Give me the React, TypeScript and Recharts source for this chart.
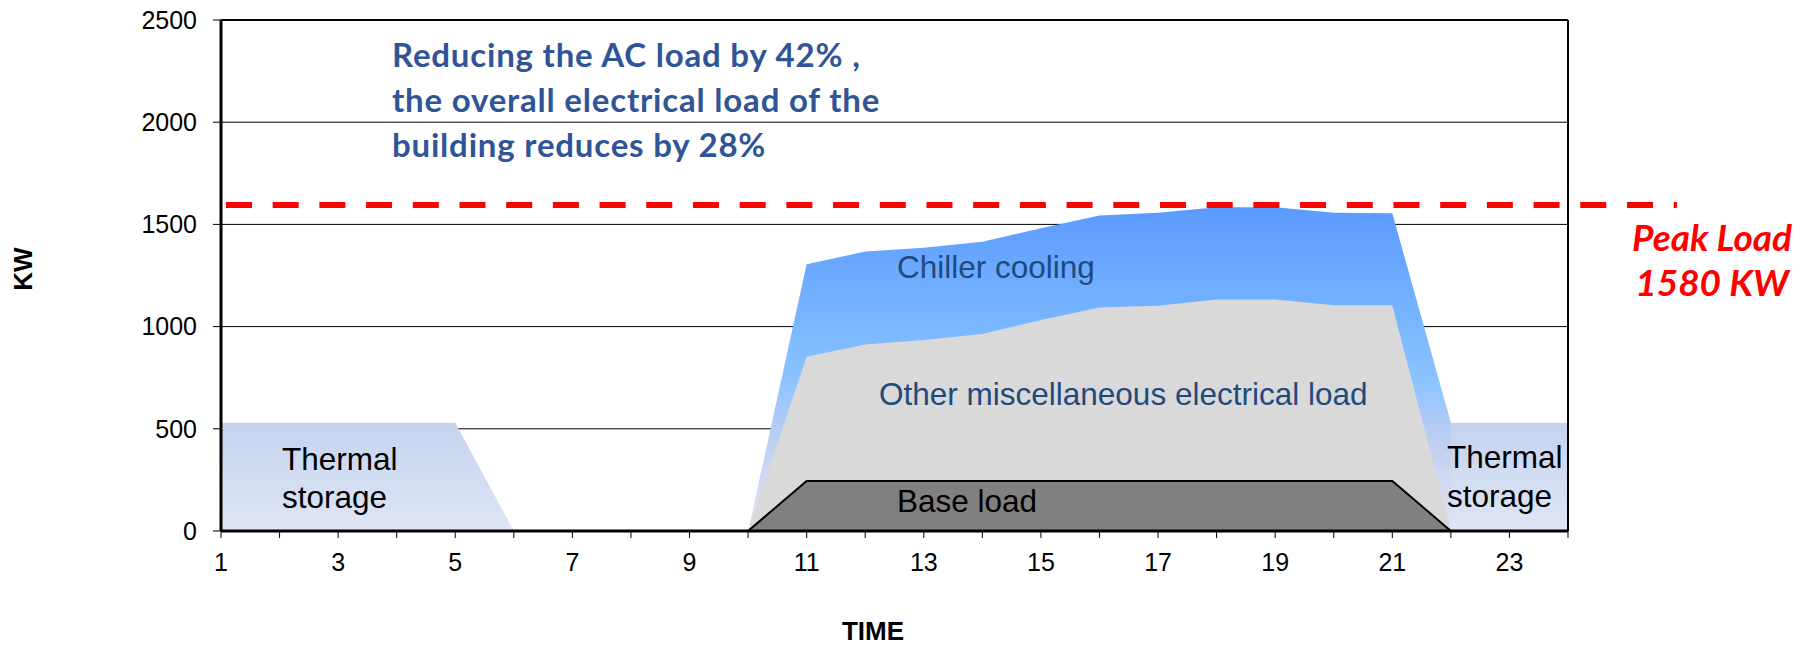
import React from 'react';
import { AreaChart, Area, XAxis, YAxis, CartesianGrid, ReferenceLine } from 'recharts';

// hour of the day
const hours = [1, 2, 3, 4, 5, 6, 7, 8, 9, 10, 11, 12, 13, 14, 15, 16, 17, 18, 19, 20, 21, 22, 23, 24];
const labelledHours = [1, 3, 5, 7, 9, 11, 13, 15, 17, 19, 21, 23];
const kwTicks = [0, 500, 1000, 1500, 2000, 2500];

// KW per hour
const thermalStorage = [530, 530, 530, 530, 530, 0, 0, 0, 0, 0, 0, 0, 0, 0, 0, 0, 0, 0, 0, 0, 0, 530, 530, 530];
const chillerLoad = [null, null, null, null, null, null, null, null, null, 0, 1305, 1367, 1386, 1415, 1481, 1544, 1557, 1584, 1584, 1557, 1555, 530, null, null];
const miscLoad = [null, null, null, null, null, null, null, null, null, 0, 853, 913, 934, 964, 1032, 1093, 1102, 1132, 1132, 1105, 1105, 0, null, null];
const baseLoad = [null, null, null, null, null, 0, 0, 0, 0, 0, 245, 245, 245, 245, 245, 245, 245, 245, 245, 245, 245, 0, null, null];

const peakLoad = 1595;

const data = hours.map((h, i) => ({
  hour: h,
  thermal: thermalStorage[i],
  chiller: chillerLoad[i],
  misc: miscLoad[i],
  base: baseLoad[i],
}));

const axisFont = { fill: '#000', fontSize: 25, fontFamily: '"Liberation Sans", Arial, sans-serif' };
const labelFont = '"Liberation Sans", Arial, sans-serif';
const noteFont = 'Lato, "Open Sans", sans-serif';

export default function App() {
  return (
    <div style={{ position: 'absolute', left: 0, top: 0, width: 1810, height: 648, background: '#fff' }}>
      <AreaChart width={1810} height={648} data={data} margin={{ top: 20, right: 242, bottom: 57, left: 0 }}>
        <defs>
          <linearGradient id="chillerFill" x1="0" y1="0" x2="0" y2="1">
            <stop offset="0%" stopColor="#5b9bff" />
            <stop offset="35%" stopColor="#78b5ff" />
            <stop offset="55%" stopColor="#8fc5ff" />
            <stop offset="70%" stopColor="#b9cdf2" />
            <stop offset="85%" stopColor="#d4d9f3" />
            <stop offset="100%" stopColor="#e2e3f6" />
          </linearGradient>
          <linearGradient id="thermalFill" x1="0" y1="0" x2="0" y2="1">
            <stop offset="0%" stopColor="#c4d3ee" />
            <stop offset="100%" stopColor="#dfe6f6" />
          </linearGradient>
        </defs>
        <CartesianGrid vertical={false} stroke="#000" strokeWidth={1} />
        <XAxis
          dataKey="hour"
          type="number"
          domain={[1, 24]}
          ticks={hours}
          interval={0}
          tickFormatter={(v) => (labelledHours.includes(v) ? String(v) : '')}
          tick={axisFont}
          tickSize={7}
          tickMargin={15}
          height={60}
          axisLine={{ stroke: '#000', strokeWidth: 3 }}
          tickLine={{ stroke: '#000', strokeWidth: 1 }}
        />
        <YAxis
          type="number"
          domain={[0, 2500]}
          ticks={kwTicks}
          interval={0}
          tick={axisFont}
          tickSize={8}
          tickMargin={16}
          width={221}
          axisLine={{ stroke: '#000', strokeWidth: 3 }}
          tickLine={{ stroke: '#000', strokeWidth: 1 }}
        />
        <Area type="linear" dataKey="thermal" stroke="none" fill="url(#thermalFill)" fillOpacity={1} isAnimationActive={false} />
        <Area type="linear" dataKey="chiller" stroke="none" fill="url(#chillerFill)" fillOpacity={1} isAnimationActive={false} />
        <Area type="linear" dataKey="misc" stroke="none" fill="#d9d9d9" fillOpacity={1} isAnimationActive={false} />
        <Area type="linear" dataKey="base" stroke="#000" strokeWidth={2} fill="#808080" fillOpacity={1} isAnimationActive={false} />
        <ReferenceLine y={2500} stroke="#000" strokeWidth={2} />
        <ReferenceLine x={24} stroke="#000" strokeWidth={2} />
        <ReferenceLine
          segment={[{ x: 1.085, y: peakLoad }, { x: 25.86, y: peakLoad }]}
          ifOverflow="visible"
          stroke="#ff0000"
          strokeWidth={6}
          strokeDasharray="26 20.7"
        />
      </AreaChart>
      <svg width={1810} height={648} style={{ position: 'absolute', left: 0, top: 0, pointerEvents: 'none' }}>
        <g fontFamily={noteFont} fontWeight="bold" fontSize={33} letterSpacing={0.8} fill="#2f5597">
          <text x={392} y={67}>Reducing the AC load by 42% ,</text>
          <text x={392} y={112}>the overall electrical load of the</text>
          <text x={392} y={157}>building reduces by 28%</text>
        </g>
        <g fontFamily={noteFont} fontWeight="bold" fontStyle="italic" fontSize={37} fill="#ff0000" textAnchor="middle">
          <text x={1712} y={251}>Peak Load</text>
          <text x={1712} y={296}>1580 KW</text>
        </g>
        <g fontFamily={labelFont} fontSize={31.5}>
          <text x={897} y={278} fill="#1f4a7e">Chiller cooling</text>
          <text x={879} y={405} fill="#1f4a7e">Other miscellaneous electrical load</text>
          <text x={897} y={512} fill="#000">Base load</text>
          <text x={282} y={470} fill="#000">Thermal</text>
          <text x={282} y={508} fill="#000">storage</text>
          <text x={1447} y={468} fill="#000">Thermal</text>
          <text x={1447} y={507} fill="#000">storage</text>
        </g>
        <g fontFamily={labelFont} fontWeight="bold" fontSize={26} fill="#000">
          <text x={0} y={0} transform="translate(32 269) rotate(-90)" textAnchor="middle">KW</text>
          <text x={873} y={640} textAnchor="middle">TIME</text>
        </g>
      </svg>
    </div>
  );
}
